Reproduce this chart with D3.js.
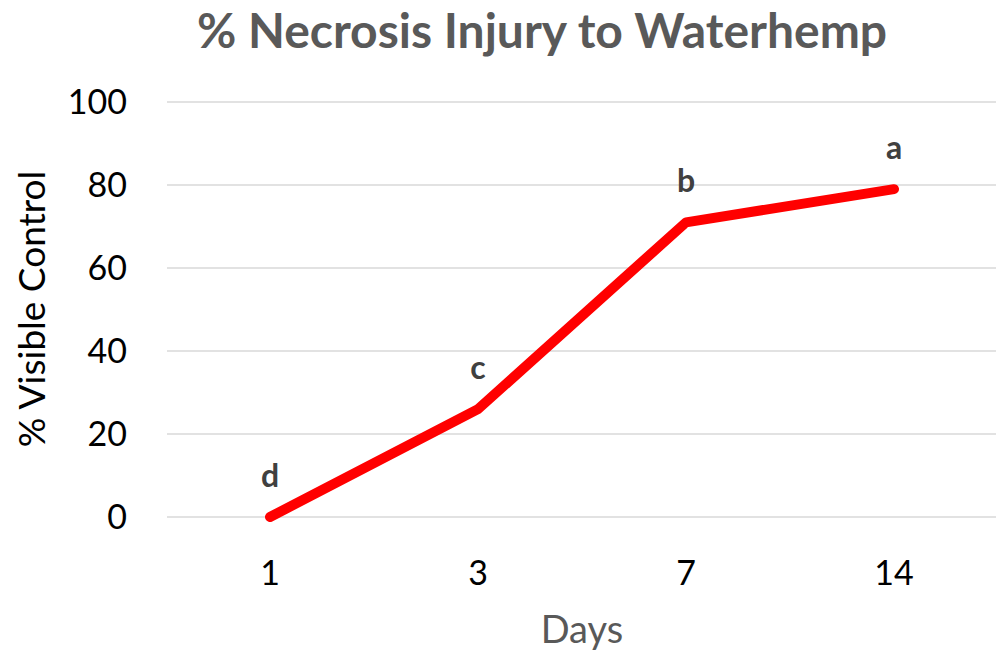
<!DOCTYPE html>
<html>
<head>
<meta charset="utf-8">
<script src="https://cdn.jsdelivr.net/npm/d3@7"></script>
<style>
  html, body { margin: 0; padding: 0; background: #fff; }
  svg { display: block; font-family: Lato, "Open Sans", sans-serif; }
</style>
</head>
<body>
<svg id="chart" width="996" height="654"></svg>
<script>
// % necrosis line chart, Excel-style look

const days = ["1", "3", "7", "14"];
const control = [0, 26, 71, 79];
const letters = ["d", "c", "b", "a"];
const yTicks = [0, 20, 40, 60, 80, 100];

const W = 996, H = 654;
const LEFT = 166, RIGHT = 998, TOP = 102, BOTTOM = 517;

const svg = d3.select("#chart");

const x = d3.scalePoint().domain(days).range([LEFT, RIGHT]).padding(0.5);
const y = d3.scaleLinear().domain([0, 100]).range([BOTTOM, TOP]);

// gridlines
svg.append("g").selectAll("line").data(yTicks).enter().append("line")
  .attr("x1", LEFT + 1).attr("x2", W)
  .attr("y1", (d) => y(d)).attr("y2", (d) => y(d))
  .attr("stroke", "#d9d9d9").attr("stroke-width", 1.5);

// y tick labels
svg.append("g").selectAll("text").data(yTicks).enter().append("text")
  .attr("x", 127).attr("y", (d) => y(d) + 12)
  .attr("text-anchor", "end")
  .style("font-size", "34px").style("fill", "#000")
  .text((d) => d);

// x tick labels
svg.append("g").selectAll("text").data(days).enter().append("text")
  .attr("x", (d) => x(d)).attr("y", 585)
  .attr("text-anchor", "middle")
  .style("font-size", "34px").style("fill", "#000")
  .text((d) => d);

// line
const pts = days.map((d, i) => ({ day: d, v: control[i], l: letters[i] }));
svg.append("path").datum(pts)
  .attr("d", d3.line().x((d) => x(d.day)).y((d) => y(d.v)))
  .attr("fill", "none").attr("stroke", "#ff0000")
  .attr("stroke-width", 10).attr("stroke-linecap", "round")
  .attr("stroke-linejoin", "round");

// letter labels
svg.append("g").selectAll("text").data(pts).enter().append("text")
  .attr("x", (d) => x(d.day)).attr("y", (d) => y(d.v) - 30)
  .attr("text-anchor", "middle")
  .style("font-size", "32px").style("font-weight", "bold").style("fill", "#404040")
  .text((d) => d.l);

// title
svg.append("text")
  .attr("x", 542).attr("y", 48).attr("text-anchor", "middle")
  .style("font-size", "48px").style("font-weight", "bold").style("fill", "#595959")
  .text("% Necrosis Injury to Waterhemp");

// axis titles
svg.append("text")
  .attr("transform", "translate(45,309) rotate(-90)")
  .attr("text-anchor", "middle")
  .style("font-size", "37px").style("fill", "#000")
  .text("% Visible Control");

svg.append("text")
  .attr("x", 582).attr("y", 643).attr("text-anchor", "middle")
  .style("font-size", "38px").style("fill", "#595959")
  .text("Days");
</script>
</body>
</html>
